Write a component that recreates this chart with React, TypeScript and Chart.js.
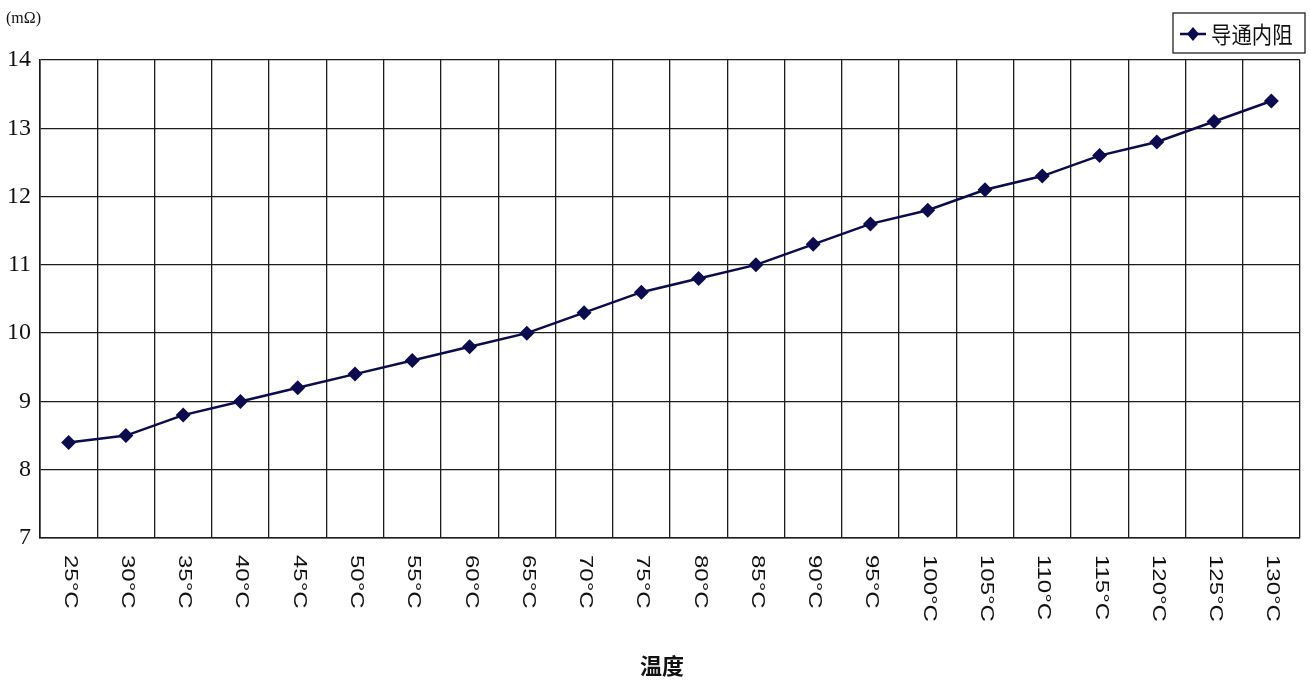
import React, { useEffect, useRef } from "react";
import { Chart, registerables } from "chart.js";

Chart.register(...registerables);

const categories = [
  "25°C", "30°C", "35°C", "40°C", "45°C", "50°C", "55°C", "60°C", "65°C", "70°C", "75°C",
  "80°C", "85°C", "90°C", "95°C", "100°C", "105°C", "110°C", "115°C", "120°C", "125°C", "130°C",
];
const resistance = [
  8.4, 8.5, 8.8, 9.0, 9.2, 9.4, 9.6, 9.8, 10.0, 10.3, 10.6,
  10.8, 11.0, 11.3, 11.6, 11.8, 12.1, 12.3, 12.6, 12.8, 13.1, 13.4,
];
const seriesName = "导通内阻";
const yMin = 7;
const yMax = 14;
const yStep = 1;
const yUnit = "(mΩ)";
const xTitle = "温度";

const LINE = "#0b0b4d";
const GRID = "#1c1c1c";

const overlayPlugin = {
  id: "overlay",
  afterDraw(chart: any) {
    const ctx = chart.ctx as CanvasRenderingContext2D;
    const xs = chart.scales.x;
    const area = chart.chartArea;
    ctx.save();
    // rotated x labels (clockwise, reading top to bottom)
    ctx.fillStyle = "#111";
    ctx.font = "18px 'Liberation Sans', Arial, sans-serif";
    ctx.textAlign = "left";
    ctx.textBaseline = "middle";
    categories.forEach((lab, i) => {
      const x = xs.getPixelForValue(i);
      ctx.save();
      ctx.translate(x + 1, area.bottom + 17);
      ctx.rotate(Math.PI / 2);
      ctx.scale(1.33, 1);
      ctx.fillText(lab, 0, 0);
      ctx.restore();
    });
    // x title
    ctx.font = "bold 22px 'Noto Sans CJK SC', sans-serif";
    ctx.textAlign = "center";
    ctx.fillStyle = "#111";
    ctx.fillText(xTitle, 662, 666);
    // unit
    ctx.font = "16px 'Liberation Serif', serif";
    ctx.textAlign = "left";
    ctx.fillText(yUnit, 6, 19);
    // legend
    const lx = 1173, ly = 13, lw = 132, lh = 40;
    ctx.fillStyle = "#fff";
    ctx.fillRect(lx, ly, lw, lh);
    ctx.strokeStyle = "#222";
    ctx.lineWidth = 1.3;
    ctx.strokeRect(lx, ly, lw, lh);
    const cy = ly + lh / 2 + 1;
    ctx.strokeStyle = LINE;
    ctx.lineWidth = 2.5;
    ctx.beginPath();
    ctx.moveTo(lx + 7, cy);
    ctx.lineTo(lx + 33, cy);
    ctx.stroke();
    ctx.fillStyle = LINE;
    ctx.beginPath();
    ctx.moveTo(lx + 20, cy - 7);
    ctx.lineTo(lx + 26, cy);
    ctx.lineTo(lx + 20, cy + 7);
    ctx.lineTo(lx + 14, cy);
    ctx.closePath();
    ctx.fill();
    ctx.fillStyle = "#111";
    ctx.font = "20px 'Noto Sans CJK SC', sans-serif";
    ctx.textAlign = "left";
    ctx.textBaseline = "middle";
    ctx.save();
    ctx.translate(lx + 38, cy);
    ctx.scale(1.02, 1.15);
    ctx.fillText(seriesName, 0, 0);
    ctx.restore();
    ctx.restore();
  },
};

export default function App() {
  const ref = useRef<HTMLCanvasElement>(null);
  useEffect(() => {
    document.body.style.margin = "0";
    const chart = new Chart(ref.current as HTMLCanvasElement, {
      type: "line",
      data: {
        labels: categories,
        datasets: [
          {
            label: seriesName,
            data: resistance,
            borderColor: LINE,
            backgroundColor: LINE,
            borderWidth: 2.5,
            pointStyle: "rectRot",
            pointRadius: 7.5,
            pointBackgroundColor: LINE,
            pointBorderColor: LINE,
            pointBorderWidth: 0,
            tension: 0,
          },
        ],
      },
      options: {
        animation: false,
        responsive: true,
        maintainAspectRatio: false,
        layout: { padding: { top: 60, right: 10, left: 0, bottom: 0 } },
        plugins: { legend: { display: false }, tooltip: { enabled: false } },
        scales: {
          x: {
            offset: true,
            grid: { offset: true, color: GRID, lineWidth: 1.3, drawTicks: false },
            border: { display: true, color: GRID, width: 1.6 },
            ticks: { display: false },
            afterFit: (s: any) => {
              s.height = 146;
            },
          },
          y: {
            min: yMin,
            max: yMax,
            grid: { color: GRID, lineWidth: 1.3, drawTicks: false },
            border: { display: true, color: GRID, width: 1.6 },
            ticks: {
              stepSize: yStep,
              padding: 9,
              color: "#111",
              font: { family: "'Liberation Serif', serif", size: 24 },
            },
            afterFit: (s: any) => {
              s.width = 40;
            },
          },
        },
      },
      plugins: [overlayPlugin],
    });
    return () => chart.destroy();
  }, []);
  return (
    <div style={{ width: 1310, height: 684, position: "relative", background: "#fff" }}>
      <canvas ref={ref} />
    </div>
  );
}
